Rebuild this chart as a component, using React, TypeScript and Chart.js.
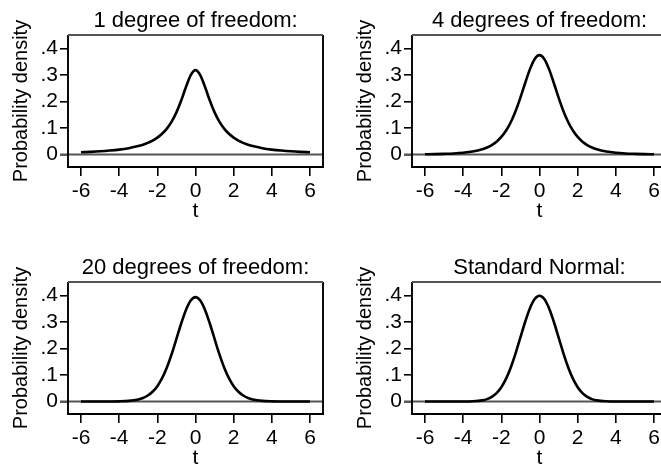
import React, { useEffect, useRef } from "react";
import { Chart, registerables } from "chart.js";

Chart.register(...registerables);

// ---- data ----
const tValues = [
  -6, -5.5, -5, -4.5, -4, -3.5, -3, -2.75, -2.5, -2.25, -2, -1.75, -1.5, -1.25, -1, -0.75, -0.5, -0.25,
  0,
  0.25, 0.5, 0.75, 1, 1.25, 1.5, 1.75, 2, 2.25, 2.5, 2.75, 3, 3.5, 4, 4.5, 5, 5.5, 6,
];
const densityDf1 = [
  0.0086, 0.0102, 0.0122, 0.015, 0.0187, 0.024, 0.0318, 0.0372, 0.0439, 0.0525, 0.0637, 0.0784, 0.0979, 0.1242, 0.1592, 0.2037, 0.2546, 0.2996,
  0.3183,
  0.2996, 0.2546, 0.2037, 0.1592, 0.1242, 0.0979, 0.0784, 0.0637, 0.0525, 0.0439, 0.0372, 0.0318, 0.024, 0.0187, 0.015, 0.0122, 0.0102, 0.0086,
];
const densityDf4 = [
  0.0012, 0.0017, 0.0027, 0.0041, 0.0067, 0.0113, 0.0197, 0.0264, 0.0357, 0.0485, 0.0663, 0.0905, 0.1229, 0.1644, 0.2147, 0.2699, 0.3223, 0.3607,
  0.375,
  0.3607, 0.3223, 0.2699, 0.2147, 0.1644, 0.1229, 0.0905, 0.0663, 0.0485, 0.0357, 0.0264, 0.0197, 0.0113, 0.0067, 0.0041, 0.0027, 0.0017, 0.0012,
];
const densityDf20 = [
  0.0, 0.0, 0.0001, 0.0003, 0.0008, 0.0026, 0.008, 0.0136, 0.0227, 0.0369, 0.0581, 0.0883, 0.1286, 0.1789, 0.2361, 0.2945, 0.3458, 0.3813,
  0.394,
  0.3813, 0.3458, 0.2945, 0.2361, 0.1789, 0.1286, 0.0883, 0.0581, 0.0369, 0.0227, 0.0136, 0.008, 0.0026, 0.0008, 0.0003, 0.0001, 0.0, 0.0,
];
const densityNormal = [
  0.0, 0.0, 0.0, 0.0, 0.0001, 0.0009, 0.0044, 0.0091, 0.0175, 0.0317, 0.054, 0.0863, 0.1295, 0.1826, 0.242, 0.3011, 0.3521, 0.3867,
  0.3989,
  0.3867, 0.3521, 0.3011, 0.242, 0.1826, 0.1295, 0.0863, 0.054, 0.0317, 0.0175, 0.0091, 0.0044, 0.0009, 0.0001, 0.0, 0.0, 0.0, 0.0,
];
const panelTitles = [
  "1 degree of freedom:",
  "4 degrees of freedom:",
  "20 degrees of freedom:",
  "Standard Normal:",
];
const xTickValues = [-6, -4, -2, 0, 2, 4, 6];
const xTickLabels = ["-6", "-4", "-2", "0", "2", "4", "6"];
const yTickValues = [0, 0.1, 0.2, 0.3, 0.4];
const yTickLabels = ["0", ".1", ".2", ".3", ".4"];
const xAxisTitle = "t";
const yAxisTitle = "Probability density";

const FONT = "'Liberation Sans', Arial, Helvetica, sans-serif";
const CANVAS_W = 330;
const CANVAS_H = 225;

const decorPlugin = {
  id: "panelDecor",
  beforeDatasetsDraw(chart: any) {
    const { ctx, chartArea, scales } = chart;
    const y0 = scales.y.getPixelForValue(0);
    ctx.save();
    ctx.strokeStyle = "#555555";
    ctx.lineWidth = 2;
    ctx.beginPath();
    ctx.moveTo(chartArea.left - 8, y0);
    ctx.lineTo(chartArea.right, y0);
    ctx.stroke();
    ctx.restore();
  },
  afterDraw(chart: any) {
    const { ctx, chartArea } = chart;
    const { left, right, top, bottom } = chartArea;
    ctx.save();
    ctx.lineWidth = 1.9;
    ctx.strokeStyle = "#000000";
    ctx.beginPath();
    ctx.moveTo(left, top);
    ctx.lineTo(left, bottom);
    ctx.lineTo(right, bottom);
    ctx.lineTo(right, top);
    ctx.stroke();
    ctx.strokeStyle = "#555555";
    ctx.beginPath();
    ctx.moveTo(left, top);
    ctx.lineTo(right, top);
    ctx.stroke();
    const title = chart.options.plugins.panelDecor?.title ?? "";
    ctx.fillStyle = "#000000";
    ctx.font = `22px ${FONT}`;
    ctx.textAlign = "center";
    ctx.textBaseline = "alphabetic";
    ctx.fillText(title, (left + right) / 2, top - 8);
    ctx.restore();
  },
};

function Panel({ series, title, left, top }: { series: number[]; title: string; left: number; top: number }) {
  const ref = useRef<HTMLCanvasElement | null>(null);
  useEffect(() => {
    if (!ref.current) return;
    const chart = new Chart(ref.current, {
      type: "line",
      data: {
        datasets: [
          {
            data: tValues.map((t, i) => ({ x: t, y: series[i] })),
            borderColor: "#000000",
            borderWidth: 2.6,
            pointRadius: 0,
            fill: false,
            cubicInterpolationMode: "monotone",
          },
        ],
      },
      options: {
        responsive: false,
        animation: false,
        devicePixelRatio: 1,
        layout: { padding: { top: 35, right: 7, left: 0, bottom: 0 } },
        plugins: {
          legend: { display: false },
          tooltip: { enabled: false },
          title: { display: false },
          panelDecor: { title },
        } as any,
        scales: {
          x: {
            type: "linear",
            min: -6.68,
            max: 6.68,
            afterBuildTicks: (s: any) => {
              s.ticks = xTickValues.map((v) => ({ value: v }));
            },
            afterFit: (s: any) => {
              s.height = CANVAS_H - 167;
            },
            ticks: {
              callback: (_v: any, i: number) => xTickLabels[i],
              font: { family: FONT, size: 21 },
              color: "#000000",
              padding: 3,
              maxRotation: 0,
              autoSkip: false,
            },
            grid: { drawOnChartArea: false, drawTicks: true, tickLength: 9, tickColor: "#000000", lineWidth: 1.6 },
            border: { display: false },
            title: {
              display: true,
              text: xAxisTitle,
              font: { family: FONT, size: 21, lineHeight: 1.2 },
              color: "#000000",
              padding: { top: 0, bottom: 1 },
            },
          },
          y: {
            type: "linear",
            min: -0.047,
            max: 0.451,
            afterBuildTicks: (s: any) => {
              s.ticks = yTickValues.map((v) => ({ value: v }));
            },
            afterFit: (s: any) => {
              s.width = 68;
            },
            ticks: {
              callback: (_v: any, i: number) => yTickLabels[i],
              font: { family: FONT, size: 21 },
              color: "#000000",
              padding: 2,
              autoSkip: false,
            },
            grid: { drawOnChartArea: false, drawTicks: true, tickLength: 8, tickColor: "#000000", lineWidth: 1.6 },
            border: { display: false },
            title: {
              display: true,
              text: yAxisTitle,
              font: { family: FONT, size: 20, lineHeight: 1.2 },
              color: "#000000",
              padding: { top: 9, bottom: 0 },
            },
          },
        },
      } as any,
      plugins: [decorPlugin as any],
    });
    return () => chart.destroy();
  }, [series, title]);
  return (
    <div style={{ position: "absolute", left, top, width: CANVAS_W, height: CANVAS_H }}>
      <canvas ref={ref} width={CANVAS_W} height={CANVAS_H} style={{ display: "block" }} />
    </div>
  );
}

export default function App() {
  return (
    <div
      style={{
        position: "absolute",
        left: 0,
        top: 0,
        width: 661,
        height: 466,
        overflow: "hidden",
        background: "#ffffff",
      }}
    >
      <Panel series={densityDf1} title={panelTitles[0]} left={0} top={0} />
      <Panel series={densityDf4} title={panelTitles[1]} left={344} top={0} />
      <Panel series={densityDf20} title={panelTitles[2]} left={0} top={247} />
      <Panel series={densityNormal} title={panelTitles[3]} left={344} top={247} />
    </div>
  );
}
